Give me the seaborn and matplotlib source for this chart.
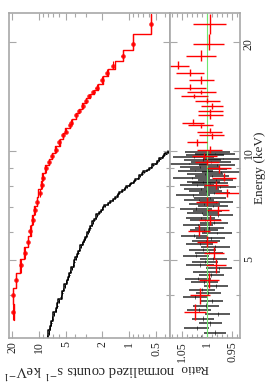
import numpy as np
import matplotlib
matplotlib.use('Agg')
import matplotlib.pyplot as plt
import matplotlib.ticker as mticker
import seaborn as sns

# red spectrum (hard band), bin centres in keV
red_energy = [3.6, 4.0, 4.42, 4.84, 5.24, 5.62, 6.03, 6.46, 6.89, 7.26,
              7.66, 8.08, 8.44, 8.97, 9.32, 9.73, 10.1, 10.6, 11.1, 11.34,
              11.8, 12.0, 12.56, 12.9, 13.34, 13.8, 14.2, 14.6, 15.0, 15.7,
              16.5, 17.2, 18.3, 19.8, 22.5]
red_counts = [19.5, 19.8, 18.3, 16.2, 14.5, 13.4, 12.7, 11.9, 11.1, 10.5,
              9.9, 9.4, 9.0, 8.4, 7.8, 7.2, 6.6, 6.0, 5.4, 5.1,
              4.6, 4.4, 3.9, 3.6, 3.3, 3.05, 2.8, 2.5, 2.3, 2.0,
              1.78, 1.53, 1.18, 0.90, 0.57]
red_ratio = [1.025, 1.014, 0.997, 0.982, 0.987, 1.0, 1.017, 0.994, 0.979, 1.0,
             0.961, 0.982, 0.967, 0.977, 1.0, 1.006, 0.995, 1.021, 0.991, 0.995,
             1.013, 1.029, 0.994, 0.994, 0.99, 1.0, 1.026, 1.012, 1.035, 1.012,
             1.035, 1.059, 1.013, 0.997, 0.995]
red_ratio_err = [0.022, 0.020, 0.020, 0.020, 0.020, 0.020, 0.022, 0.022, 0.022, 0.022,
                 0.024, 0.024, 0.024, 0.024, 0.024, 0.025, 0.025, 0.020, 0.025, 0.025,
                 0.025, 0.022, 0.025, 0.025, 0.022, 0.025, 0.027, 0.029, 0.032, 0.025,
                 0.028, 0.023, 0.030, 0.031, 0.033]

# black spectrum (soft band), 0.1 keV bins
black_energy = [3.05, 3.15, 3.25, 3.35, 3.45, 3.55, 3.65, 3.75, 3.85, 3.95,
                4.05, 4.15, 4.25, 4.35, 4.45, 4.55, 4.65, 4.75, 4.85, 4.95,
                5.05, 5.15, 5.25, 5.35, 5.45, 5.55, 5.65, 5.75, 5.85, 5.95,
                6.05, 6.15, 6.25, 6.35, 6.45, 6.55, 6.65, 6.75, 6.85, 6.95,
                7.05, 7.15, 7.25, 7.35, 7.45, 7.55, 7.65, 7.75, 7.85, 7.95,
                8.05, 8.15, 8.25, 8.35, 8.45, 8.55, 8.65, 8.75, 8.85, 8.95,
                9.05, 9.15, 9.25, 9.35, 9.45, 9.55, 9.65, 9.75, 9.85, 9.95]
black_counts = [8.2, 7.9, 7.7, 7.4, 7.15, 6.9, 6.6, 6.3, 6.1, 5.8,
                5.55, 5.4, 5.2, 5.0, 4.85, 4.65, 4.5, 4.35, 4.2, 4.1,
                3.95, 3.85, 3.7, 3.6, 3.45, 3.35, 3.22, 3.1, 3.0, 2.9,
                2.8, 2.72, 2.62, 2.53, 2.45, 2.35, 2.26, 2.16, 2.07, 1.98,
                1.86, 1.74, 1.62, 1.52, 1.43, 1.36, 1.28, 1.2, 1.13, 1.06,
                1.0, 0.95, 0.9, 0.85, 0.8, 0.76, 0.72, 0.68, 0.64, 0.6,
                0.57, 0.54, 0.51, 0.49, 0.47, 0.45, 0.43, 0.41, 0.39, 0.37]
black_ratio = [1.012, 0.985, 1.021, 0.994, 1.008, 0.979, 1.016, 1.003, 0.991, 1.024,
               0.998, 1.011, 0.983, 1.006, 1.019, 0.992, 1.001, 0.976, 1.014, 1.005,
               0.988, 1.022, 0.997, 1.009, 0.984, 1.015, 1.002, 0.993, 1.026, 0.981,
               1.007, 0.996, 1.018, 0.987, 1.004, 1.013, 0.978, 1.010, 0.999, 1.023,
               0.989, 1.006, 0.982, 1.017, 0.995, 1.028, 0.986, 1.003, 1.012, 0.975,
               1.020, 0.994, 1.008, 0.983, 1.031, 0.990, 1.005, 0.972, 1.024, 0.998,
               1.015, 0.981, 1.036, 0.992, 1.009, 0.969, 1.027, 1.004, 0.985, 1.000]
black_ratio_err = [0.024, 0.022, 0.025, 0.023, 0.022, 0.025, 0.024, 0.026, 0.023, 0.025,
                   0.025, 0.026, 0.024, 0.027, 0.026, 0.025, 0.027, 0.026, 0.028, 0.026,
                   0.027, 0.026, 0.028, 0.027, 0.029, 0.027, 0.028, 0.029, 0.027, 0.030,
                   0.028, 0.029, 0.030, 0.028, 0.031, 0.029, 0.030, 0.031, 0.029, 0.032,
                   0.030, 0.031, 0.033, 0.030, 0.032, 0.034, 0.031, 0.033, 0.035, 0.032,
                   0.034, 0.036, 0.033, 0.035, 0.037, 0.034, 0.036, 0.038, 0.035, 0.037,
                   0.039, 0.036, 0.038, 0.040, 0.037, 0.039, 0.041, 0.038, 0.040, 0.045]

sns.set_style('ticks')
plt.rcParams['font.family'] = ['Liberation Serif', 'DejaVu Serif']
plt.rcParams['mathtext.fontset'] = 'stix'

GREY = '#a8a8a8'


def edges(c):
    c = np.asarray(c)
    mid = np.sqrt(c[:-1] * c[1:])
    lo = np.concatenate([[c[0] ** 2 / mid[0]], mid])
    hi = np.concatenate([mid, [c[-1] ** 2 / mid[-1]]])
    return lo, hi


def steps(model, lo, hi):
    return np.repeat(model, 2), np.column_stack([lo, hi]).ravel()


r_e = np.array(red_energy)
r_c = np.array(red_counts)
r_r = np.array(red_ratio)
r_lo, r_hi = edges(r_e)
r_model = r_c / r_r

b_e = np.array(black_energy)
b_c = np.array(black_counts)
b_r = np.array(black_ratio)
b_lo, b_hi = b_e - 0.05, b_e + 0.05
b_model = b_c / b_r

fig = plt.figure(figsize=(2.68, 3.84), dpi=100)
ax1 = fig.add_axes([9 / 268, 46 / 384, 161 / 268, 325 / 384])
ax2 = fig.add_axes([170 / 268, 46 / 384, 70 / 268, 325 / 384], sharey=ax1)

# counts panel (energy runs up, counts run right-to-left)
ax1.errorbar(b_c, b_e, xerr=b_c * np.array(black_ratio_err) * 0.5,
             yerr=[b_e - b_lo, b_hi - b_e], fmt='none', ecolor='black', elinewidth=0.7)
x, y = steps(b_model, b_lo, b_hi)
ax1.plot(x, y, color='black', lw=1.1)

ax1.errorbar(r_c, r_e, xerr=r_c * np.array(red_ratio_err),
             yerr=[r_e - r_lo, r_hi - r_e], fmt='none', ecolor='red', elinewidth=0.8)
x, y = steps(r_model, r_lo, r_hi)
ax1.plot(x, y, color='red', lw=1.0)
sns.scatterplot(x=r_c, y=r_e, ax=ax1, color='#ff2020', s=11, linewidth=0)

ax1.set_xscale('log')
ax1.set_yscale('log')
ax1.set_xlim(21.8, 0.35)
ax1.set_ylim(3.05, 24.1)

# ratio panel
ax2.errorbar(b_r, b_e, xerr=black_ratio_err, fmt='none',
             ecolor='black', elinewidth=1.15, alpha=0.8)
ax2.errorbar(b_r, b_e, yerr=0.05, fmt='none',
             ecolor='black', elinewidth=0.5, alpha=0.8)
ax2.axvline(1.0, color='#6fe86f', lw=0.8)
ax2.errorbar(r_r, r_e, xerr=red_ratio_err, yerr=[r_e - r_lo, r_hi - r_e],
             fmt='none', ecolor='red', elinewidth=1.0)
ax2.set_xlim(1.074, 0.934)

# ticks
ax1.xaxis.set_major_locator(mticker.FixedLocator([0.5, 1, 2, 5, 10, 20]))
ax1.xaxis.set_major_formatter(mticker.FixedFormatter(['0.5', '1', '2', '5', '10', '20']))
ax1.xaxis.set_minor_locator(mticker.FixedLocator([0.4, 0.6, 0.7, 0.8, 0.9, 3, 4, 6, 7, 8, 9]))
ax1.xaxis.set_minor_formatter(mticker.NullFormatter())

ax2.xaxis.set_major_locator(mticker.FixedLocator([0.95, 1.0, 1.05]))
ax2.xaxis.set_major_formatter(mticker.FixedFormatter(['0.95', '1', '1.05']))
ax2.xaxis.set_minor_locator(mticker.MultipleLocator(0.01))

ax1.yaxis.set_major_locator(mticker.FixedLocator([5, 10, 20]))
ax1.yaxis.set_major_formatter(mticker.FixedFormatter(['5', '10', '20']))
ax1.yaxis.set_minor_locator(mticker.FixedLocator([3, 4, 6, 7, 8, 9]))
ax1.yaxis.set_minor_formatter(mticker.NullFormatter())

for ax in (ax1, ax2):
    for s in ax.spines.values():
        s.set_color(GREY)
        s.set_linewidth(1.2)
    ax.tick_params(which='both', direction='in', color=GREY, width=0.8,
                   top=True, bottom=True, left=True, right=True, labelsize=8.5)
    ax.tick_params(which='major', length=5)
    ax.tick_params(which='minor', length=3)
    ax.tick_params(axis='x', labelrotation=90, pad=2)

ax1.tick_params(axis='y', labelleft=False, labelright=False)
ax2.tick_params(axis='y', labelleft=False, labelright=True, labelrotation=90, pad=2)

ax1.set_xlabel('normalized counts s$^{-1}$ keV$^{-1}$', rotation=180, fontsize=10.5)
ax1.xaxis.set_label_coords(80 / 161, -24 / 325)
ax2.set_xlabel('Ratio', rotation=180, fontsize=9.5)
ax2.xaxis.set_label_coords(24 / 70, -24 / 325)
ax2.yaxis.set_label_position('right')
ax2.set_ylabel('Energy (keV)', rotation=90, fontsize=9.5)
ax2.yaxis.set_label_coords(84 / 70, 170 / 325)

fig.savefig('out.png', dpi=100)
